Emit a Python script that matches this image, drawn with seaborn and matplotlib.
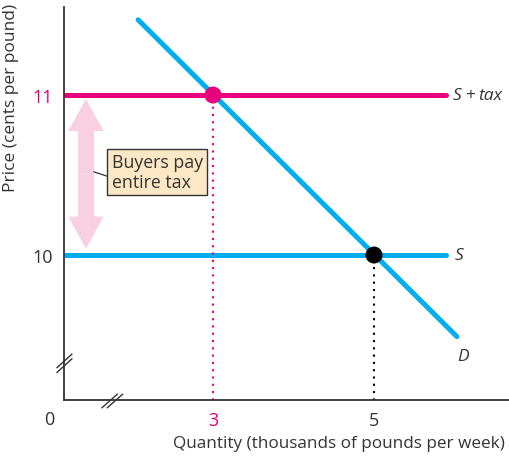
import matplotlib
matplotlib.use('Agg')
import matplotlib.pyplot as plt
import matplotlib.patches as mpatches
import numpy as np
import pandas as pd
import seaborn as sns

sns.set_style('white')
plt.rcParams['font.family'] = ['Open Sans', 'DejaVu Sans']

PINK = '#E8007D'
BLUE = '#00AEEF'
DARK = '#333333'

# curves (quantity in thousands of pounds, price in cents)
demand_q = [2.07, 6.03]
demand_p = [11.47, 9.49]
supply_q = [1.15, 5.9]
supply_p = [10, 10]
tax_q = [1.15, 5.9]
tax_p = [11, 11]

# equilibria: with tax, without tax
eq_q = [3, 5]
eq_p = [11, 10]
eq_colors = [PINK, 'black']

xticks = [3, 5]
yticks = [10, 11]

fig = plt.figure(figsize=(5.09, 4.6), dpi=100)
ax = fig.add_axes([64 / 509, 59 / 460, 445 / 509, 393 / 460])

sns.lineplot(x=demand_q, y=demand_p, ax=ax, color=BLUE, linewidth=3.6)
sns.lineplot(x=supply_q, y=supply_p, ax=ax, color=BLUE, linewidth=3.6)
sns.lineplot(x=tax_q, y=tax_p, ax=ax, color=PINK, linewidth=3.6)

# dotted drop lines
ax.vlines(eq_q[0], 9.0, eq_p[0], colors=PINK, linestyles=(0, (1, 2.5)), linewidth=1.5)
ax.vlines(eq_q[1], 9.0, eq_p[1], colors='black', linestyles=(0, (1, 2.5)), linewidth=1.5)

sns.scatterplot(x=eq_q, y=eq_p, ax=ax, hue=eq_q, palette=eq_colors, s=150,
                edgecolor='none', legend=False, zorder=5)

# double-headed tax arrow
ax_x = 1.422
lo, hi = 10.04, 10.975
mid = (lo + hi) / 2
for start, d in [(mid, hi - mid), (mid, lo - mid)]:
    ax.add_patch(mpatches.FancyArrow(ax_x, start, 0, d, width=0.2, head_width=0.44,
                                     head_length=0.2, length_includes_head=True,
                                     color='#F8D0E2', linewidth=0))

ax.plot([1.52, 1.70], [10.52, 10.49], color=DARK, linewidth=0.9)
ax.text(1.74, 10.52, 'Buyers pay\nentire tax', fontsize=12.8, color=DARK,
        ha='left', va='center', linespacing=1.1,
        bbox=dict(boxstyle='square,pad=0.25', facecolor='#FDE8C6', edgecolor=DARK, linewidth=1))

# curve labels
ax.text(5.98, 11, 'S', fontsize=12.5, color=DARK, style='italic', va='center', ha='left')
ax.text(6.13, 11, '+', fontsize=12.5, color=DARK, va='center', ha='left')
ax.text(6.30, 11, 'tax', fontsize=12.5, color=DARK, style='italic', va='center', ha='left')
ax.text(6.0, 10, 'S', fontsize=12.5, color=DARK, style='italic', va='center', ha='left')
ax.text(6.04, 9.37, 'D', fontsize=12.5, color=DARK, style='italic', va='center', ha='left')

ax.set_xlim(1.149, 6.677)
ax.set_ylim(9.094, 11.55)

ax.set_xticks(xticks)
ax.set_xticklabels([str(t) for t in xticks], fontsize=13)
ax.get_xticklabels()[0].set_color(PINK)
ax.get_xticklabels()[1].set_color(DARK)
ax.set_yticks(yticks)
ax.set_yticklabels([str(t) for t in yticks], fontsize=13)
ax.get_yticklabels()[0].set_color(DARK)
ax.get_yticklabels()[1].set_color(PINK)
ax.tick_params(length=0, pad=8)

ax.text(-0.033, -0.025, '0', transform=ax.transAxes, fontsize=13, color=DARK,
        ha='center', va='top')

ax.set_xlabel('Quantity (thousands of pounds per week)', fontsize=12.3, color=DARK, loc='right')
ax.xaxis.set_label_coords(0.99, -0.09)
ax.set_ylabel('Price (cents per pound)', fontsize=12.5, color=DARK, loc='top')
ax.yaxis.set_label_coords(-0.1, 1.01)

sns.despine(ax=ax)
for side in ['left', 'bottom']:
    ax.spines[side].set_color(DARK)
    ax.spines[side].set_linewidth(1.3)

# axis break marks
for dy in (0, 0.012):
    ax.plot([-0.016, 0.018], [0.07 + dy, 0.105 + dy], transform=ax.transAxes,
            color=DARK, linewidth=1, clip_on=False)
for dx in (0, 0.012):
    ax.plot([0.085 + dx, 0.12 + dx], [-0.02, 0.015], transform=ax.transAxes,
            color=DARK, linewidth=1, clip_on=False)

fig.savefig('out.png', dpi=100)
